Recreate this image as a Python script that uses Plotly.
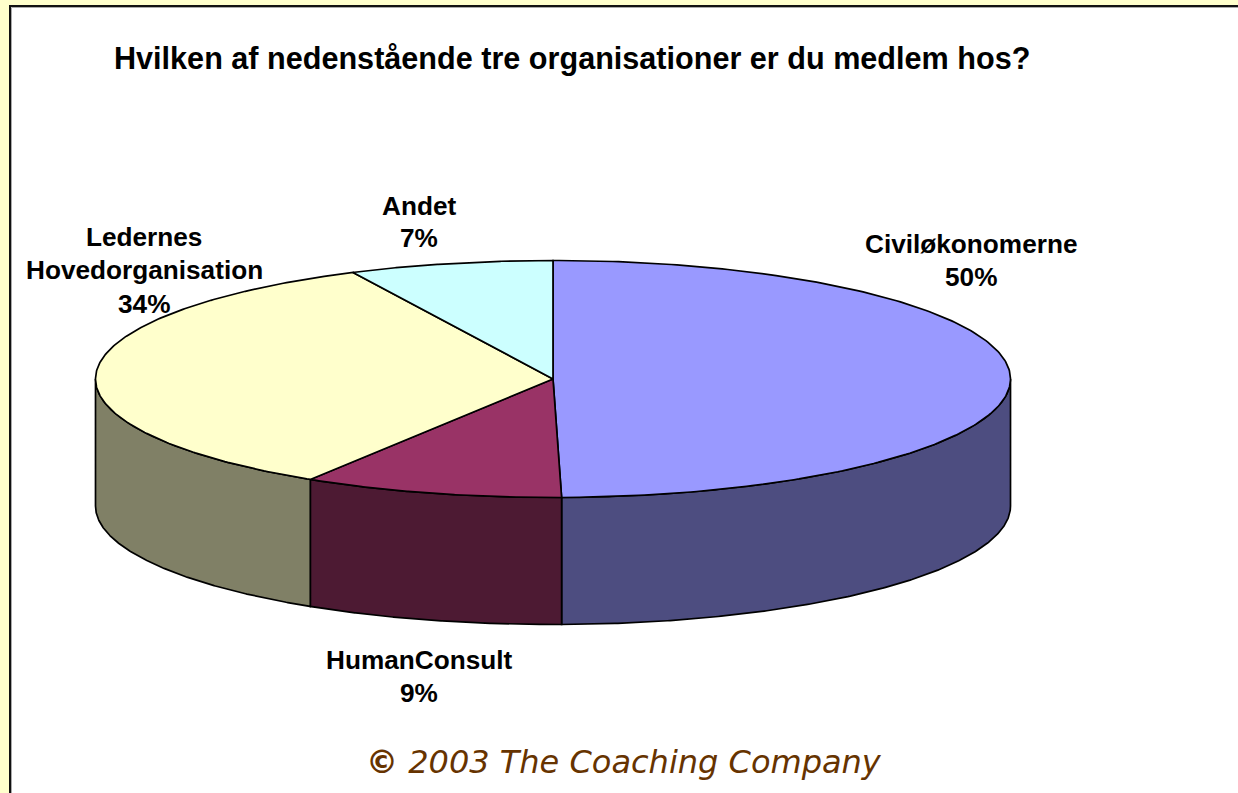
import numpy as np
import plotly.graph_objects as go

TITLE = "Hvilken af nedenstående tre organisationer er du medlem hos?"
FOOTER_MARK = "©"
FOOTER = "2003 The Coaching Company"
categories = ["Civiløkonomerne", "HumanConsult", "Ledernes Hovedorganisation", "Andet"]
shares = [49.7, 9.2, 33.9, 7.2]
labels_pct = ["50%", "9%", "34%", "7%"]
top_colors = ["#9999FF", "#993366", "#FFFFCC", "#CCFFFF"]
side_colors = ["#4D4D80", "#4D1A33", "#808066", "#668080"]

W, H = 1238, 793
CX, CY, RX, RY, DEPTH = 553, 379, 457.5, 118.5, 127
LINE = dict(color="black", width=1.7)

# label lines: (text lines, centre x, y of each line)
label_lines = [
    (["Civiløkonomerne", labels_pct[0]], 970.5, [244, 277]),
    (["HumanConsult", labels_pct[1]], 419, [660, 693]),
    (["Ledernes", "Hovedorganisation", labels_pct[2]], 144, [237, 270, 304]),
    (["Andet", labels_pct[3]], 419, [206, 238]),
]


def ell(theta_deg, dy=0):
    t = np.radians(theta_deg)
    return CX + RX * np.sin(t), CY - RY * np.cos(t) + dy


fig = go.Figure()
edges = np.cumsum([0] + shares) / sum(shares) * 360

# side walls (visible front half only)
for i, c in enumerate(side_colors):
    a, b = max(edges[i], 90), min(edges[i + 1], 270)
    if b <= a:
        continue
    th = np.linspace(a, b, 240)
    x1, y1 = ell(th)
    x2, y2 = ell(th[::-1], DEPTH)
    fig.add_trace(go.Scatter(
        x=np.r_[x1, x2, x1[0]], y=np.r_[y1, y2, y1[0]],
        mode="lines", fill="toself", fillcolor=c, line=LINE,
        name=categories[i], hoverinfo="name", showlegend=False))

# top faces
for i, c in enumerate(top_colors):
    th = np.linspace(edges[i], edges[i + 1], 240)
    x1, y1 = ell(th)
    fig.add_trace(go.Scatter(
        x=np.r_[CX, x1, CX], y=np.r_[CY, y1, CY],
        mode="lines", fill="toself", fillcolor=c, line=LINE,
        name=categories[i], hoverinfo="name", showlegend=False))

shapes = [
    dict(type="rect", x0=10, x1=W + 5, y0=6, y1=H + 5, fillcolor="white", line=dict(width=0), layer="below"),
    dict(type="line", x0=11.5, x1=W + 5, y0=7.5, y1=7.5, line=dict(color="#AAAAAA", width=1), layer="below"),
    dict(type="line", x0=11.5, x1=11.5, y0=7.5, y1=H + 5, line=dict(color="#AAAAAA", width=1), layer="below"),
    dict(type="line", x0=9, x1=W + 5, y0=6, y1=6, line=dict(color="#111111", width=2), layer="below"),
    dict(type="line", x0=10, x1=10, y0=5, y1=H + 5, line=dict(color="#111111", width=2), layer="below"),
]

ann = [
    dict(x=572, y=58, text=f"<b>{TITLE}</b>", font=dict(family="Liberation Sans", size=30.6, color="black")),
    dict(x=623.5, y=762, text=f"<b><i>{FOOTER_MARK}</i></b><i> {FOOTER}</i>",
         font=dict(family="DejaVu Sans", size=32, color="#663300")),
]
for lines, x, ys in label_lines:
    for t, y in zip(lines, ys):
        ann.append(dict(x=x, y=y, text=f"<b>{t}</b>", font=dict(family="Liberation Sans", size=26.2, color="black")))
for a in ann:
    a.update(xref="x", yref="y", showarrow=False, xanchor="center", yanchor="middle")

fig.update_layout(
    width=W, height=H, margin=dict(l=0, r=0, t=0, b=0),
    paper_bgcolor="#FFFFCC", plot_bgcolor="rgba(0,0,0,0)",
    xaxis=dict(range=[0, W], visible=False, fixedrange=True),
    yaxis=dict(range=[H, 0], visible=False, fixedrange=True),
    shapes=shapes, annotations=ann, showlegend=False,
)
fig.write_html("out.html", config=dict(displayModeBar=False),
               post_script="document.body.style.margin='0';document.body.style.overflow='hidden';")
